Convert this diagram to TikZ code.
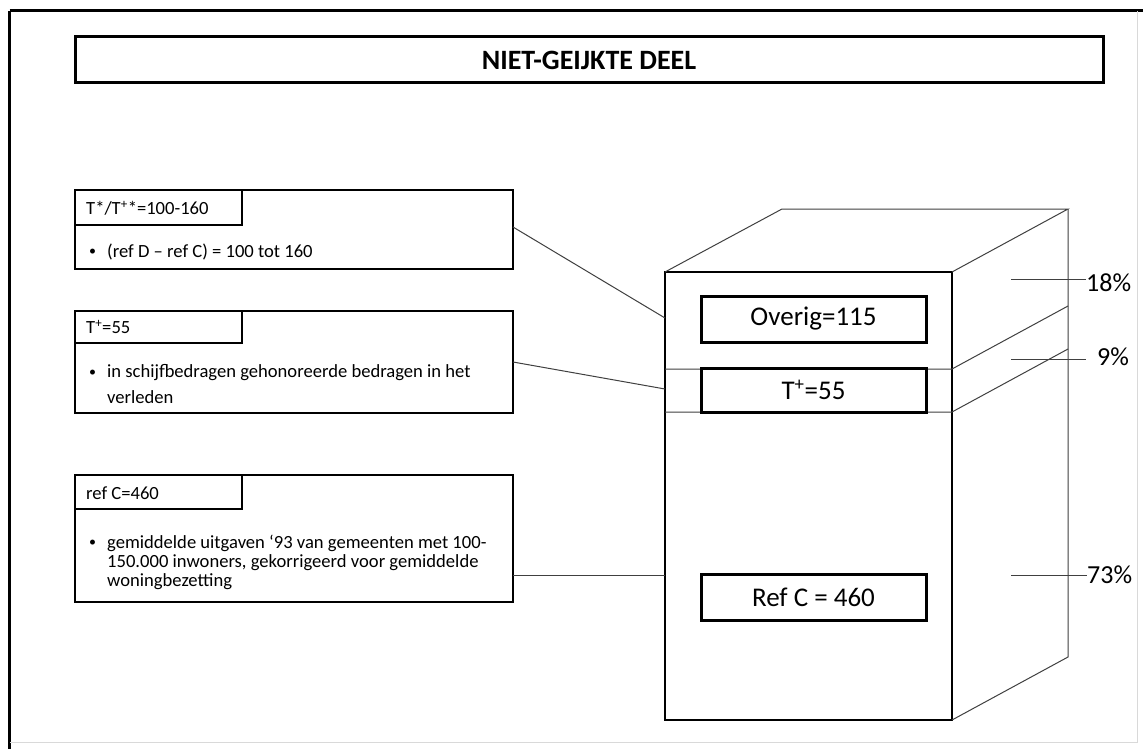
\documentclass[tikz,border=0pt]{standalone}
\usepackage{fontspec}
\setmainfont{Carlito}
\begin{document}
\begin{tikzpicture}[x=1pt,y=-1pt,
  heavy/.style={line width=2.6pt},
  panel/.style={draw,heavy,rectangle,inner sep=0pt,outer sep=0pt},
  tagbox/.style={draw,line width=3pt,rectangle,inner sep=0pt,outer sep=0pt,
    minimum width=225pt,font=\fontsize{27}{30}\selectfont},
  thin/.style={line width=1pt,black!75},
  small/.style={anchor=west,inner sep=0pt,font=\fontsize{18.6}{20}\selectfont},
  dot/.style={anchor=west,inner sep=0pt,font=\fontsize{14}{16}\selectfont},
  pct/.style={anchor=west,inner sep=0pt,font=\fontsize{26}{28}\selectfont}]
\useasboundingbox (0,0) rectangle (1143,749);
\fill[white] (0,0) rectangle (1143,749);

% slide frame
\draw[line width=3pt] (9.5,11) -- (1143,11);
\draw[line width=3pt] (9.5,11) -- (9.5,749);
\draw[line width=0.6pt,black!15] (1137,11) -- (1137,742) -- (9.5,742);

% title bar
\node[panel,line width=3pt,minimum width=1028pt,minimum height=46pt,
  font=\fontsize{28}{30}\selectfont\bfseries] (title) at (589,60) {NIET-GEIJKTE DEEL};

% left explanation panels
\node[panel,minimum width=438pt,minimum height=79pt] (b1) at (294,229.5) {};
\node[panel,minimum width=167pt,minimum height=35pt] (t1) at (158.5,207.5) {};
\node[small] (h1) at (86,208) {T*/T\textsuperscript{+}*=100-160};
\node[dot] (d1b) at (89,252) {•};
\node[small] (d1) at (107,252) {(ref D – ref C) = 100 tot 160};

\node[panel,minimum width=438pt,minimum height=102pt] (b2) at (294,362) {};
\node[panel,minimum width=167pt,minimum height=32pt] (t2) at (158.5,327) {};
\node[small] (h2) at (86,327) {T\textsuperscript{+}=55};
\node[dot] (d2b) at (89,373) {•};
\node[small] (d2) at (107,373) {in schijfbedragen gehonoreerde bedragen in het};
\node[small] (d2c) at (107,397) {verleden};

\node[panel,minimum width=438pt,minimum height=127pt] (b3) at (294,538.5) {};
\node[panel,minimum width=167pt,minimum height=34pt] (t3) at (158.5,492) {};
\node[small] (h3) at (86,493) {ref C=460};
\node[dot] (d3b) at (89,543) {•};
\node[small] (d3) at (107,543) {gemiddelde uitgaven ‘93 van gemeenten met 100-};
\node[small] (d3c) at (107,562.5) {150.000 inwoners, gekorrigeerd voor gemiddelde};
\node[small] (d3d) at (107,582) {woningbezetting};

% block: front face
\node[panel,line width=2.2pt,minimum width=287pt,minimum height=448pt] (front) at (808.5,496) {};
\coordinate (ftl) at (665,272);
\coordinate (ftr) at (952,272);
\coordinate (fbr) at (952,720);
\coordinate (btl) at (782,209);
\coordinate (btr) at (1068,209);
\coordinate (bbr) at (1068,657);
\coordinate (l1a) at (665,369);
\coordinate (l1b) at (952,369);
\coordinate (l1c) at (1068,306);
\coordinate (l2a) at (665,412);
\coordinate (l2b) at (952,412);
\coordinate (l2c) at (1068,349);

% block: depth edges and layer lines
\draw[thin] (ftl) -- (btl) -- (btr) -- (ftr);
\draw[thin] (btr) -- (bbr) -- (fbr);
\draw[thin] (l1a) -- (l1b) -- (l1c);
\draw[thin] (l2a) -- (l2b) -- (l2c);

% block: layer labels
\node[tagbox,minimum height=46pt,fill=white] (ov) at (813.5,319) {Overig=115};
\node[tagbox,minimum height=44pt,fill=white] (tp) at (813.5,390) {T\textsuperscript{+}=55};
\node[tagbox,minimum height=46pt,fill=white] (rc) at (813.5,597) {Ref C = 460};

% percentages
\coordinate (p1) at (1011,279);
\coordinate (p2) at (1011,359);
\coordinate (p3) at (1011,575);
\node[pct] (q1) at (1086,283) {18\%};
\node[pct] (q2) at (1097,357) {9\%};
\node[pct] (q3) at (1087,575) {73\%};
\draw[thin] (p1) -- (q1.west |- p1);
\draw[thin] (p2) -- ([xshift=-11pt]q2.west |- p2);
\draw[thin] (p3) -- (q3.west |- p3);

% connectors from panels to block
\coordinate (c1) at (665,318);
\coordinate (c2) at (665,389);
\coordinate (c3) at (665,575);
\draw[thin] ([yshift=2.5pt]b1.east) -- (c1);
\draw[thin] (b2.east) -- (c2);
\draw[thin] (b3.east |- c3) -- (c3);
\end{tikzpicture}
\end{document}
